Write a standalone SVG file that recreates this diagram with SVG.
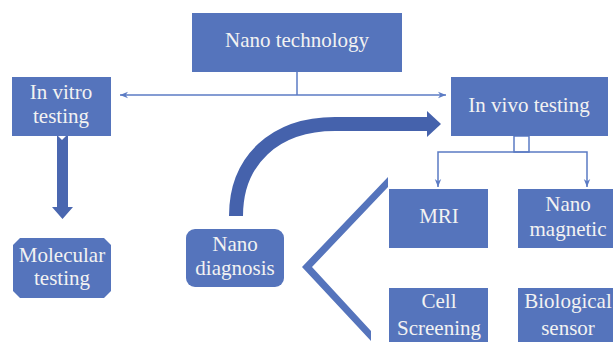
<svg xmlns="http://www.w3.org/2000/svg" width="613" height="342" viewBox="0 0 613 342">
<style>
.box{fill:#5574BC;}
.t{font-family:"Liberation Serif","Times New Roman",serif;font-size:21px;fill:#F2F2F2;text-anchor:middle;}
.ln{fill:none;stroke:#5B7BC4;stroke-width:1.5;}
</style>
<defs>
<marker id="ah" viewBox="0 0 10 10" refX="10" refY="5" markerWidth="8" markerHeight="8" markerUnits="userSpaceOnUse" orient="auto-start-reverse">
<path d="M0,1 L10,5 L0,9 L3,5 Z" fill="#5B7BC4"/>
</marker>
</defs>
<rect width="613" height="342" fill="#ffffff"/>

<g id="connectors">
<line class="ln" x1="297" y1="72" x2="297" y2="95"/>
<line class="ln" x1="120" y1="95" x2="446" y2="95" marker-start="url(#ah)" marker-end="url(#ah)"/>
<rect class="ln" x="514" y="136" width="15" height="16"/>
<polyline class="ln" points="438,187 438,152 587,152 587,187" marker-start="url(#ah)" marker-end="url(#ah)"/>
<g id="down-arrow">
<polygon points="57,136 68,136 68,207 73,207 62.5,219 52,207 57,207" fill="#4A67B0"/>
<polygon points="58,136 66,136 62,140" fill="#ffffff"/>
</g>
<g id="curved-arrow">
<path d="M236,216 C236,160 275,124 335,124 L428,124" fill="none" stroke="#4562AC" stroke-width="14"/>
<polygon points="427,111 441,124 427,137" fill="#4562AC"/>
</g>
<polygon id="chevron" points="388,177 302,267 371,341 371,331 312,267 388,187" fill="#5574BC"/>
</g>

<g id="nano-technology">
<rect class="box" x="192" y="13" width="210" height="59"/>
<text class="t" x="297" y="47">Nano technology</text>
</g>
<g id="in-vitro">
<rect class="box" x="12" y="77" width="99" height="59"/>
<text class="t" x="61" y="99">In vitro</text>
<text class="t" x="61" y="123">testing</text>
</g>
<g id="in-vivo">
<rect class="box" x="451" y="77" width="157" height="59"/>
<text class="t" x="529" y="112">In vivo testing</text>
</g>
<g id="molecular">
<polygon class="box" points="20,238 104,238 111,245 111,291 104,298 20,298 13,291 13,245"/>
<text class="t" x="62" y="262">Molecular</text>
<text class="t" x="62" y="285">testing</text>
</g>
<g id="nano-diagnosis">
<rect class="box" x="186" y="229" width="98" height="58" rx="9"/>
<text class="t" x="235" y="251">Nano</text>
<text class="t" x="235" y="275">diagnosis</text>
</g>
<g id="mri">
<rect class="box" x="389" y="189" width="99" height="59"/>
<text class="t" x="439" y="223">MRI</text>
</g>
<g id="nano-magnetic">
<rect class="box" x="518" y="189" width="95" height="59"/>
<text class="t" x="568" y="211">Nano</text>
<text class="t" x="568" y="236">magnetic</text>
</g>
<g id="cell-screening">
<rect class="box" x="389" y="288" width="99" height="54"/>
<text class="t" x="439" y="308">Cell</text>
<text class="t" x="439" y="335">Screening</text>
</g>
<g id="biological-sensor">
<rect class="box" x="518" y="288" width="95" height="54"/>
<text class="t" x="568" y="308">Biological</text>
<text class="t" x="568" y="335">sensor</text>
</g>
</svg>
